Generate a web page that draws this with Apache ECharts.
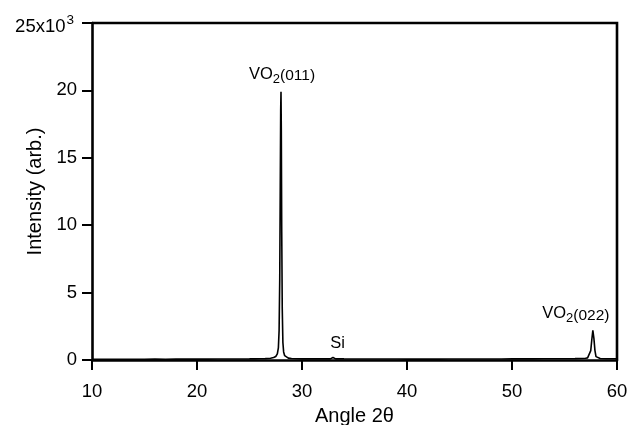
<!DOCTYPE html>
<html><head><meta charset="utf-8">
<script src="https://cdn.jsdelivr.net/npm/echarts@6/dist/echarts.min.js"></script>
<style>html,body{margin:0;padding:0;background:#fff}#c{width:631px;height:425px}</style>
</head><body><div id="c"></div>
<script>
const angles = [10,11,12,13,14,15,16,17,18,19,20,21,22,23,24,25,25.5,26,26.5,27,27.3,27.5,27.65,27.75,27.82,27.88,27.93,27.97,28.0,28.03,28.07,28.12,28.18,28.25,28.35,28.5,28.7,29,29.5,30,31,32,32.7,32.85,32.95,33.05,33.2,34,35,36,37,38,39,40,41,42,43,44,45,46,47,48,49,50,51,52,53,54,55,56,56.5,57,57.2,57.35,57.5,57.6,57.7,57.8,57.9,58.0,58.15,58.4,59,60];
const intensity = [60,55,60,55,60,58,62,60,65,62,65,68,70,72,75,80,85,90,100,130,180,260,450,900,2200,6000,13000,18500,19900,17000,9500,3800,1300,600,320,200,140,110,95,85,80,80,85,140,190,120,85,80,78,75,72,70,70,68,68,70,68,70,70,72,72,75,78,80,82,85,88,90,95,100,110,130,160,250,700,1500,2200,1600,700,250,140,110,95,90];
const peakLabels = [
  {name:'VO2(011)', coord:[28.0,19900], sub:'2', pre:'VO', post:'(011)', offset:[1,0]},
  {name:'Si', coord:[33.0,190], pre:'Si', offset:[4,4]},
  {name:'VO2(022)', coord:[57.7,2200], sub:'2', pre:'VO', post:'(022)', offset:[-17,1]}
];
const xTicks = [10,20,30,40,50,60];
const yTicks = [0,5000,10000,15000,20000,25000];

const FONT = 'Liberation Sans';
const chart = echarts.init(document.getElementById('c'), null, {renderer:'canvas'});
const richAnn = {
  n:{fontFamily:FONT,fontSize:16.5,color:'#000',verticalAlign:'top',lineHeight:22,height:19},
  s:{fontFamily:FONT,fontSize:13,color:'#000',verticalAlign:'bottom',lineHeight:15,height:15},
  m:{fontFamily:FONT,fontSize:15.5,color:'#000',verticalAlign:'top',lineHeight:22,height:22}
};
chart.setOption({
  animation:false,
  backgroundColor:'#fff',
  grid:{left:92,right:14,top:23,bottom:65,show:false,containLabel:false,outerBoundsMode:'none'},
  xAxis:{
    type:'value',min:10,max:60,interval:10,
    name:'Angle 2θ',nameLocation:'middle',nameGap:46,nameMoveOverlap:false,
    nameTextStyle:{fontFamily:FONT,fontSize:20,color:'#000'},
    axisLine:{show:true,onZero:false,lineStyle:{color:'#000',width:2.6}},
    axisTick:{show:true,inside:false,length:10,lineStyle:{color:'#000',width:2}},
    axisLabel:{fontFamily:FONT,fontSize:18.5,color:'#000',margin:22},
    splitLine:{show:false}
  },
  yAxis:{
    type:'value',min:0,max:25000,interval:5000,
    name:'Intensity (arb.)',nameLocation:'middle',nameGap:47,nameMoveOverlap:false,
    nameTextStyle:{fontFamily:FONT,fontSize:20,color:'#000'},
    axisLine:{show:true,onZero:false,lineStyle:{color:'#000',width:2.6}},
    axisTick:{show:true,inside:false,length:10,lineStyle:{color:'#000',width:2}},
    axisLabel:{fontFamily:FONT,fontSize:18.5,color:'#000',margin:15,
      formatter:function(v){ if(v===25000) return '{n|25x10}{p|3}'; return String(v/1000); },
      rich:{n:{fontFamily:FONT,fontSize:18.5,color:'#000',verticalAlign:'bottom',lineHeight:26,height:19},
            p:{fontFamily:FONT,fontSize:13.5,color:'#000',verticalAlign:'top',lineHeight:20,height:20,padding:[0,3,0,1]}}
    },
    splitLine:{show:false}
  },
  series:[{
    type:'line',
    data:angles.map((a,i)=>[a,intensity[i]]),
    showSymbol:false,symbol:'none',
    lineStyle:{color:'#000',width:1.6},
    markPoint:{
      symbol:'circle',symbolSize:0,
      data:peakLabels.map(p=>({name:p.name,coord:p.coord,
        label:{show:true,position:'top',offset:p.offset,
          formatter: p.sub ? '{n|'+p.pre+'}{s|'+p.sub+'}{m|'+p.post+'}' : '{n|'+p.pre+'}',
          rich:richAnn}}))
    }
  }]
});
const g = chart.getModel().getComponent('grid').coordinateSystem.getRect();
chart.setOption({graphic:[{type:'polyline',shape:{points:[[g.x,g.y],[g.x+g.width,g.y],[g.x+g.width,g.y+g.height]]},style:{stroke:'#000',lineWidth:2.6,fill:null},z:10}]});
</script></body></html>
